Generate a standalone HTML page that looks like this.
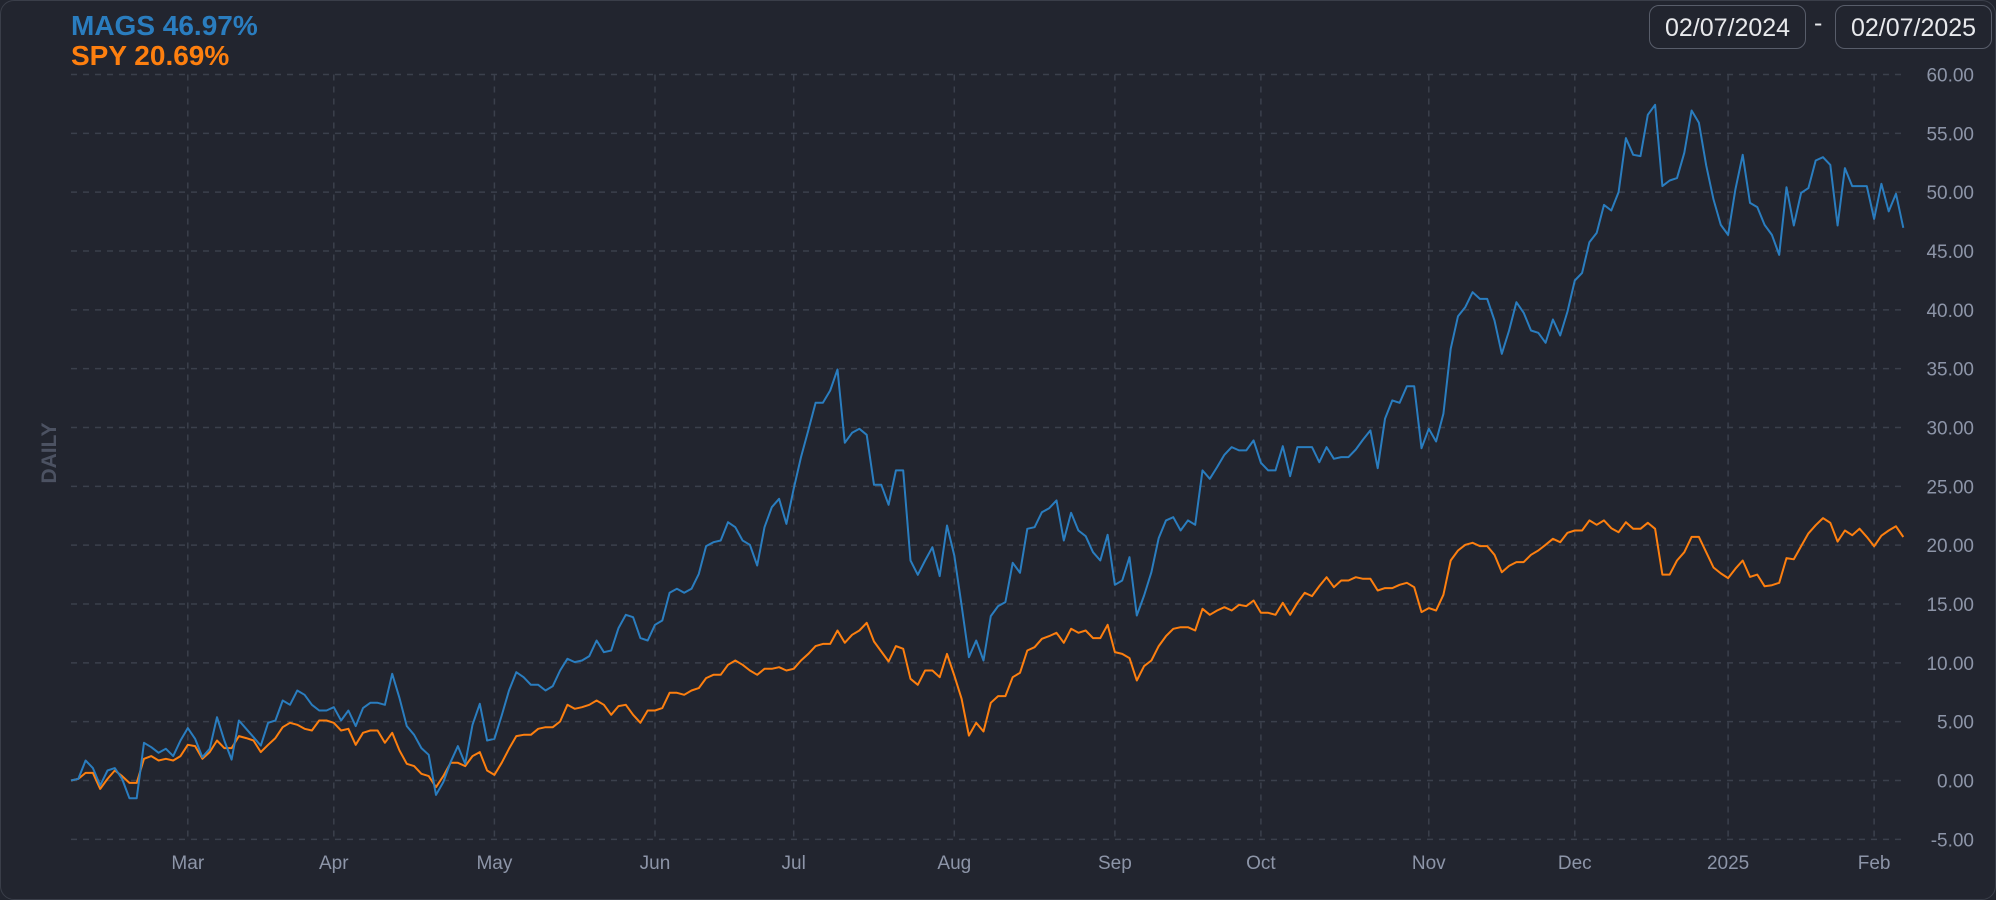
<!DOCTYPE html>
<html><head><meta charset="utf-8"><style>
html,body{margin:0;padding:0;background:#22252f;}
#wrap{position:relative;width:1996px;height:900px;overflow:hidden;background:#22252f;font-family:"Liberation Sans",sans-serif;box-sizing:border-box;border:1px solid #3a3e49;border-radius:14px;}
.leg{position:absolute;left:70px;font-weight:bold;font-size:28px;line-height:30px;}
.datebox{position:absolute;top:4px;height:44px;width:157px;border:1.5px solid #585d6a;border-radius:10px;color:#e8e9ec;font-size:25px;line-height:44px;text-align:center;box-sizing:border-box;}
</style></head><body>
<div id="wrap">
<div class="leg" style="top:10px;color:#2a7dbf">MAGS 46.97%</div>
<div class="leg" style="top:40px;color:#fd7f0f">SPY 20.69%</div>
<div class="datebox" style="left:1648px">02/07/2024</div>
<div style="position:absolute;left:1813px;top:8px;color:#e8e9ec;font-size:25px;">-</div>
<div class="datebox" style="left:1834px">02/07/2025</div>
<svg id="chart" width="1996" height="900" style="position:absolute;left:0;top:0">
<text x="55" y="452" transform="rotate(-90 55 452)" text-anchor="middle" font-family="Liberation Sans" font-weight="bold" font-size="21" fill="#4c5262">DAILY</text>
</svg>
</div>
<script>
const mags=[0,0.14,1.7,1.05,-0.42,0.85,1.05,0.14,-1.5,-1.5,3.2,2.83,2.35,2.69,2.07,3.4,4.45,3.54,1.98,2.69,5.38,3.4,1.78,5.1,4.39,3.68,2.97,4.9,5.1,6.8,6.43,7.65,7.28,6.43,5.95,5.95,6.23,5.1,5.95,4.62,6.15,6.6,6.6,6.43,9.07,7.0,4.62,3.88,2.75,2.18,-1.22,-0.14,1.56,2.92,1.42,4.73,6.52,3.4,3.54,5.52,7.65,9.2,8.78,8.13,8.13,7.65,8.02,9.35,
10.34,10.06,10.2,10.57,11.9,10.9,11.05,12.95,14.08,13.88,12.1,11.9,13.23,13.6,15.95,16.29,15.95,16.29,17.56,19.92,20.25,20.4,21.95,21.53,20.4,20.03,18.27,21.53,23.23,23.94,21.81,24.79,27.48,29.75,32.1,32.1,33.14,34.93,28.7,29.55,29.89,29.38,25.13,25.13,23.43,26.35,26.35,18.7,17.48,18.7,19.83,17.37,21.67,19.12,14.87,10.48,11.9,10.2,13.97,14.82,15.16,18.5,17.65,21.39,21.53,22.8,
23.14,23.8,20.4,22.75,21.25,20.76,19.4,18.7,20.88,16.63,17.0,18.98,14.02,15.72,17.7,20.6,22.1,22.38,21.25,22.1,21.73,26.35,25.64,26.63,27.68,28.33,28.05,28.05,28.9,27.0,26.35,26.35,28.41,25.86,28.33,28.33,28.33,27.05,28.33,27.34,27.48,27.48,28.13,28.98,29.75,26.54,30.74,32.3,32.1,33.51,33.51,28.24,29.89,28.81,31.16,36.69,39.46,40.23,41.5,40.93,40.93,39.09,36.26,38.24,40.65,
39.75,38.24,38.05,37.2,39.18,37.82,39.86,42.49,43.14,45.75,46.54,48.92,48.44,50.0,54.59,53.17,53.06,56.57,57.42,50.51,50.99,51.19,53.34,56.94,55.89,52.27,49.38,47.22,46.37,50.23,53.17,49.09,48.73,47.22,46.37,44.67,50.42,47.17,49.94,50.34,52.69,52.97,52.32,47.17,52.04,50.51,50.51,50.51,47.73,50.71,48.36,49.86,46.97];
const spy=[0,0.14,0.65,0.65,-0.71,0.14,0.85,0.37,-0.2,-0.2,1.84,2.07,1.7,1.84,1.7,2.07,3.03,2.92,1.84,2.41,3.4,2.75,2.75,3.77,3.6,3.4,2.41,3.03,3.6,4.53,4.9,4.73,4.39,4.25,5.1,5.1,4.9,4.25,4.39,3.03,4.05,4.25,4.25,3.2,4.05,2.55,1.42,1.22,0.57,0.37,-0.57,0.37,1.5,1.5,1.22,2.07,2.41,0.85,0.48,1.5,2.69,3.77,3.88,3.88,4.39,4.53,4.53,5.01,
6.43,6.09,6.23,6.43,6.8,6.43,5.58,6.32,6.43,5.58,4.9,5.95,5.95,6.15,7.45,7.45,7.28,7.65,7.85,8.7,8.98,8.98,9.83,10.2,9.83,9.35,8.98,9.49,9.49,9.63,9.35,9.49,10.2,10.76,11.42,11.61,11.61,12.75,11.7,12.38,12.75,13.4,11.81,10.96,10.11,11.42,11.19,8.64,8.13,9.35,9.35,8.78,10.76,8.92,6.94,3.82,4.9,4.16,6.6,7.17,7.17,8.78,9.15,11.05,11.33,12.04,
12.27,12.55,11.7,12.89,12.55,12.75,12.1,12.1,13.23,10.91,10.76,10.4,8.5,9.72,10.2,11.42,12.27,12.89,13.03,13.03,12.75,14.59,14.08,14.45,14.73,14.45,14.93,14.82,15.3,14.25,14.25,14.08,15.1,14.08,15.1,15.95,15.67,16.52,17.28,16.43,17.0,17.0,17.28,17.14,17.14,16.15,16.35,16.35,16.63,16.8,16.43,14.31,14.65,14.45,15.78,18.7,19.55,20.03,20.2,19.92,19.92,19.18,17.7,18.24,18.56,
18.56,19.18,19.55,20.03,20.54,20.25,21.05,21.25,21.25,22.1,21.73,22.1,21.44,21.1,21.95,21.39,21.39,21.9,21.39,17.5,17.5,18.7,19.4,20.7,20.7,19.4,18.1,17.6,17.2,18.0,18.7,17.3,17.5,16.5,16.6,16.8,18.9,18.8,19.9,21.0,21.7,22.3,21.9,20.3,21.25,20.85,21.4,20.7,19.9,20.8,21.25,21.6,20.69];
const monthLabels=["Mar","Apr","May","Jun","Jul","Aug","Sep","Oct","Nov","Dec","2025","Feb"];
const monthIdx=[16,36,58,80,99,121,143,163,186,206,227,247];
const yTicks=[-5,0,5,10,15,20,25,30,35,40,45,50,55,60];

const NS="http://www.w3.org/2000/svg";
const svg=document.getElementById('chart');
const X0=70,DX=7.3,Y0=779.5,PU=11.767;
function xs(i){return X0+i*DX;}
function ys(v){return Y0-v*PU;}
function mk(t,a){const e=document.createElementNS(NS,t);for(const k in a)e.setAttribute(k,a[k]);svg.appendChild(e);return e;}
const gridR=1900;
yTicks.forEach(v=>{
  const l=mk('line',{x1:X0,x2:gridR,y1:ys(v),y2:ys(v),stroke:'#3b404c','stroke-width':1.5,'stroke-dasharray':'6 6'});
  
  
  const t=mk('text',{x:1973,y:ys(v)+7,'text-anchor':'end','font-family':'Liberation Sans','font-size':19,fill:'#8d95a8'});
  t.textContent=v.toFixed(2);
  
  
});
monthIdx.forEach((m,k)=>{
  const l=mk('line',{x1:xs(m),x2:xs(m),y1:ys(60),y2:ys(-5),stroke:'#3b404c','stroke-width':1.5,'stroke-dasharray':'6 6'});
  
  
  const t=mk('text',{x:xs(m),y:868,'text-anchor':'middle','font-family':'Liberation Sans','font-size':19,fill:'#8d95a8'});
  t.textContent=monthLabels[k];
  
  
});
function line(d,c,n){
  const p=mk('polyline',{points:d.map((v,i)=>xs(i).toFixed(1)+','+ys(v).toFixed(1)).join(' '),fill:'none',stroke:c,'stroke-width':2,'stroke-linejoin':'round'});
  
  
}
line(spy,'#fd7f0f','spy-line');
line(mags,'#2a7dbf','mags-line');
</script>
</body></html>
